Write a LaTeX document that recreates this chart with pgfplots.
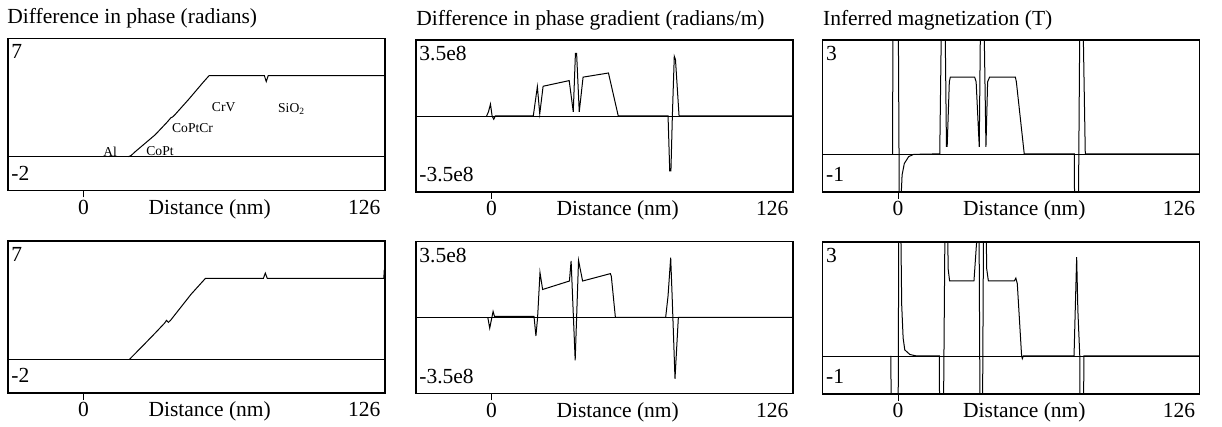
\documentclass[border=0pt]{standalone}
\usepackage{fontspec}
\setmainfont{Liberation Serif}
\newfontfamily\tnr{Liberation Serif}
\usepackage{pgfplots}
\pgfplotsset{compat=1.18}
\pgfplotsset{panel/.style={anchor=north west, width=188.5pt, height=76pt, scale only axis,
  xmin=-31.5, xmax=126, axis line style={line width=0.7pt},
  xtick={0}, xticklabels={\phantom{0}}, ytick=\empty, tick align=outside, xtick pos=left,
  major tick length=3.5pt, xtick style={line width=0.6pt, black}, clip mode=individual,
  cycle list={{black, line width=0.5pt, mark=none}}}}
\newcommand{\decor}[3]{%
  \node[anchor=base, yshift=-12pt] at (axis cs:0,#1) {0};
  \node[anchor=base, yshift=-12pt] at (rel axis cs:0.535,0) {Distance (nm)};
  \node[anchor=base east, xshift=1.2pt, yshift=-12pt] at (rel axis cs:1,0) {126};
  \node[anchor=north west, inner sep=0pt, xshift=1.5pt, yshift=-3pt] at (rel axis cs:0,1) {#2};
  \node[anchor=base west, inner sep=0pt, xshift=1.5pt, yshift=5pt] at (rel axis cs:0,0) {#3};
}
\begin{document}
\begin{tikzpicture}[font=\tnr\fontsize{10.75}{12}\selectfont]
\useasboundingbox (0pt,0pt) rectangle (611pt,-213.5pt);
% ---------- Row 1, panel 1
\begin{axis}[panel, at={(4pt,-19.25pt)}, ymin=-2, ymax=7]
\addplot coordinates {(-31.5,0) (126,0)};
\addplot coordinates {(18.8,0) (20,0.08) (21.5,0.28) (25,0.7) (30,1.3) (35,2.05) (36.5,2.3) (37.2,2.35) (38,2.45) (44,3.4) (50,4.4) (52.5,4.8) (75.6,4.8) (76.4,4.45) (77.2,4.8) (126,4.8)};
\decor{-2}{7}{-2}
\node[anchor=base west, inner sep=0pt, xshift=-0.5pt, yshift=7.4pt] at (rel axis cs:0,1) {Difference in phase (radians)};
\begin{scope}[font=\tnr\fontsize{6.8}{8}\selectfont]
\node at (axis cs:11.2,0.3) {Al};
\node at (axis cs:32,0.35) {CoPt};
\node at (axis cs:45.6,1.7) {CoPtCr};
\node at (axis cs:58.6,2.95) {CrV};
\node at (axis cs:87,2.8) {SiO\textsubscript{2}};
\end{scope}
\end{axis}
% ---------- Row 1, panel 2
\begin{axis}[panel, at={(208pt,-20pt)}, ymin=-3.5, ymax=3.5]
\addplot coordinates {(-31.5,0) (126,0)};
\addplot coordinates {(-2,0) (-1.2,0.2) (-0.4,0.55) (0.3,0) (1.0,-0.15) (1.6,0) (17.5,0) (19.2,1.35) (20.2,0.1) (21.6,1.37) (32.5,1.63) (34.2,0.19) (35.1,2.88) (35.6,2.88) (36.7,0.19) (38.3,1.79) (48.9,1.98) (53.0,0) (73.8,0) (74.5,-2.53) (75.0,-2.53) (75.6,0) (76.4,2.75) (76.9,2.6) (78.4,0) (126,0)};
\decor{-3.5}{3.5e8}{-3.5e8}
\node[anchor=base west, inner sep=0pt, xshift=0pt, yshift=7.4pt] at (rel axis cs:0,1) {Difference in phase gradient (radians/m)};
\end{axis}
% ---------- Row 1, panel 3
\begin{axis}[panel, at={(411.35pt,-20pt)}, ymin=-1, ymax=3]
\addplot coordinates {(-31.5,0) (126,0)};
\addplot coordinates {(-2.3,0) (-2.0,8) (-0.3,8) (0.9,-6) (1.2,-6) (1.35,-1) (1.67,-0.55) (2.6,-0.25) (4.4,-0.07) (6.5,-0.01) (14.3,0) (17.4,0) (18.6,6) (19.2,6) (20.2,0.2) (20.5,0.2) (21.4,1.9) (21.8,2.02) (32.0,2.02) (32.6,1.9) (33.9,0.19) (34.8,6) (35.3,6) (36.7,0.19) (37.4,1.9) (38.2,2.02) (49.0,2.02) (49.4,1.9) (52.7,0) (73.6,0) (74.2,-6) (74.8,-6) (75.5,0) (76.2,6) (76.6,6) (78.2,0) (126,0)};
\decor{-1}{3}{-1}
\node[anchor=base west, inner sep=0pt, xshift=0pt, yshift=7.4pt] at (rel axis cs:0,1) {Inferred magnetization (T)};
\end{axis}
% ---------- Row 2, panel 1
\begin{axis}[panel, at={(4pt,-120.5pt)}, ymin=-2, ymax=7]
\addplot coordinates {(-31.5,0) (126,0)};
\addplot coordinates {(19.3,0) (25,0.82) (30,1.55) (34,2.15) (34.7,2.3) (35.5,2.18) (36.5,2.32) (40,2.95) (45,3.85) (51,4.79) (75.2,4.79) (76,5.1) (76.8,4.79) (125.5,4.79) (125.7,5.3)};
\decor{-2}{7}{-2}
\end{axis}
% ---------- Row 2, panel 2
\begin{axis}[panel, at={(208pt,-120.75pt)}, ymin=-3.5, ymax=3.5]
\addplot coordinates {(-31.5,0) (126,0)};
\addplot coordinates {(-1.5,0) (-0.7,-0.49) (0.7,0.28) (1.3,0.05) (17.8,0.05) (18.6,-0.85) (19.3,0) (20.3,2.07) (21.4,1.29) (32.6,1.68) (33.3,2.61) (35.0,-1.97) (36.4,2.63) (38.1,1.68) (49.7,2.02) (50.1,1.9) (51.8,0) (72.8,0) (73.8,1.0) (74.9,2.76) (75.5,1.0) (76.7,-2.82) (78.1,0) (126,0)};
\decor{-3.5}{3.5e8}{-3.5e8}
\end{axis}
% ---------- Row 2, panel 3
\begin{axis}[panel, at={(411.35pt,-121pt)}, ymin=-1, ymax=3]
\addplot coordinates {(-31.5,0) (126,0)};
\addplot coordinates {(-3.0,0) (-2.7,-6) (-0.2,-6) (0.5,8) (0.8,8) (1.2,3) (1.5,1.35) (2.1,0.47) (2.8,0.16) (4.9,0.04) (7.7,0) (17.2,0) (17.8,-6) (18.4,-6) (19.9,6) (20.3,6) (20.9,2.3) (21.5,1.98) (31.7,1.98) (32.8,3) (33.0,6) (33.6,6) (34.6,-6) (34.9,-6) (35.9,6) (36.3,6) (37.0,2.3) (37.7,1.98) (48.6,1.98) (49.2,2.05) (49.8,1.9) (51.6,0) (51.9,-0.07) (52.3,0) (73.5,0) (74.0,1.2) (74.6,2.6) (75.1,1.2) (75.9,0) (76.2,-6) (77.2,-6) (77.6,0) (126,0)};
\decor{-1}{3}{-1}
\end{axis}
\end{tikzpicture}
\end{document}
